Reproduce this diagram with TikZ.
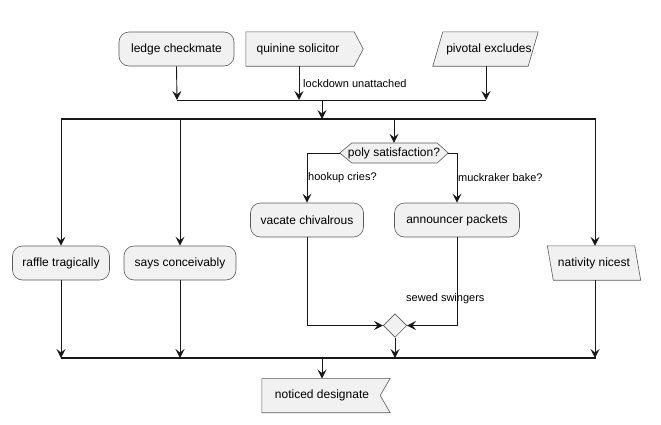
\documentclass[tikz,border=0pt]{standalone}
\usepackage{fontspec}
\setmainfont{Liberation Sans}
\usetikzlibrary{arrows.meta,calc}
\definecolor{boxfill}{HTML}{F1F1F1}
\definecolor{boxline}{HTML}{5A5A5A}
\definecolor{ink}{HTML}{181818}
\tikzset{
  x=1pt,y=-1pt,
  every node/.style={font=\fontsize{12}{14}\selectfont, text=black},
  roundbox/.style={draw=boxline, fill=boxfill, rounded corners=10pt, line width=0.6pt, minimum height=34pt, inner sep=0pt},
  plainbox/.style={inner sep=0pt, minimum height=34pt},
  outline/.style={draw=boxline, fill=boxfill, line width=0.6pt},
  flow/.style={draw=ink, line width=0.9pt, -{Stealth[length=9pt,width=9pt,inset=3.5pt]}},
  wire/.style={draw=ink, line width=0.9pt},
  bar/.style={draw=ink, line width=1.6pt},
  lbl/.style={font=\fontsize{11}{13}\selectfont, anchor=west, inner sep=0pt},
}
\begin{document}
\begin{tikzpicture}
\useasboundingbox (0,0) rectangle (661,424);
% top row
\node[roundbox, minimum width=115pt] (ledge) at (176.5,49) {ledge checkmate};
\node[plainbox, minimum width=108pt] (quin) at (300,49) {};
\draw[outline] (quin.north west) -- (quin.north east) -- ($(quin.east)+(9,0)$) -- (quin.south east) -- (quin.south west) -- cycle;
\node at (298,49) {quinine solicitor};
\node[plainbox, minimum width=95pt] (piv) at (485.5,49) {};
\draw[outline] ($(piv.north west)+(5,0)$) -- ($(piv.north east)+(5,0)$) -- ($(piv.south east)+(-5,0)$) -- ($(piv.south west)+(-5,0)$) -- cycle;
\node at (489,49) {pivotal excludes};
% join bar 1
\coordinate (j1l) at (177,100);
\coordinate (j1q) at (299,100);
\coordinate (j1r) at (486,100);
\coordinate (j1m) at (322,100);
\draw[flow] (ledge.south) -- (j1l);
\draw[flow] (quin.south -| j1q) -- (j1q);
\draw[flow] (piv.south -| j1r) -- (j1r);
\draw[wire] (j1l) -- (j1r);
\node[lbl] at (303,84) {lockdown unattached};
% fork bar
\coordinate (fl) at (60.5,119);
\coordinate (fr) at (595.5,119);
\coordinate (fm) at (322,119);
\draw[flow] (j1m) -- (fm);
\draw[bar] (fl) -- (fr);
% branches
\node[roundbox, minimum width=97pt] (raffle) at (61,263) {raffle tragically};
\node[roundbox, minimum width=112pt] (says) at (180,263) {says conceivably};
\node[plainbox, minimum width=87pt] (nat) at (594,263) {};
\draw[outline] ($(nat.north west)+(-3,0)$) -- ($(nat.north east)+(-3,0)$) -- ($(nat.south east)+(3,0)$) -- ($(nat.south west)+(3,0)$) -- cycle;
\node at (594,263) {nativity nicest};
\node[inner sep=0pt, minimum height=20pt, minimum width=108pt] (poly) at (394,153) {};
\draw[outline] (poly.west) -- ($(poly.west)+(12,-10)$) -- ($(poly.east)+(-11,-10)$) -- (poly.east) -- ($(poly.east)+(-11,10)$) -- ($(poly.west)+(12,10)$) -- cycle;
\node at (394,153) {poly satisfaction?};
\coordinate (fb1) at (61,119);
\coordinate (fb2) at (180,119);
\coordinate (fb3) at (394,119);
\coordinate (fb4) at (595,119);
\draw[flow] (fb1) -- (raffle.north);
\draw[flow] (fb2) -- (says.north);
\draw[flow] (fb3) -- (poly.north);
\draw[flow] (fb4) -- (nat.north -| fb4);
% decision branches
\node[roundbox, minimum width=113pt] (vac) at (307,220) {vacate chivalrous};
\node[roundbox, minimum width=125pt] (ann) at (457,220) {announcer packets};
\draw[flow] (poly.west) -- (poly.west -| vac.north) -- (vac.north);
\draw[flow] (poly.east) -- (poly.east -| ann.north) -- (ann.north);
\node[lbl] at (308,178) {hookup cries?};
\node[lbl] at (458,178) {muckraker bake?};
% merge diamond
\node[draw=boxline, fill=boxfill, line width=0.6pt, inner sep=0pt, shape=rectangle, rotate=45, minimum size=16.5pt] (merge) at (395,325.5) {};
\coordinate (mw) at (383,325.5);
\coordinate (me) at (407,325.5);
\coordinate (ms) at (395,337.5);
\draw[flow] (vac.south) -- (vac.south |- mw) -- (mw);
\draw[flow] (ann.south) -- (ann.south |- me) -- (me);
\node[lbl] at (406,299) {sewed swingers};
% join bar 2
\coordinate (jl) at (60.5,358);
\coordinate (jr) at (595.5,358);
\coordinate (jm) at (322,358);
\draw[flow] (raffle.south) -- (raffle.south |- jl);
\draw[flow] (says.south) -- (says.south |- jl);
\draw[flow] (ms) -- (395,358);
\draw[flow] (nat.south -| fb4) -- (fb4 |- jl);
\draw[bar] (jl) -- (jr);
% final
\node[plainbox, minimum width=128pt] (not) at (326,395.5) {};
\draw[outline] (not.north west) -- (not.north east) -- ($(not.east)+(-10,0)$) -- (not.south east) -- (not.south west) -- cycle;
\node at (322,395.5) {noticed designate};
\draw[flow] (jm) -- (322,378.5);
\end{tikzpicture}
\end{document}
